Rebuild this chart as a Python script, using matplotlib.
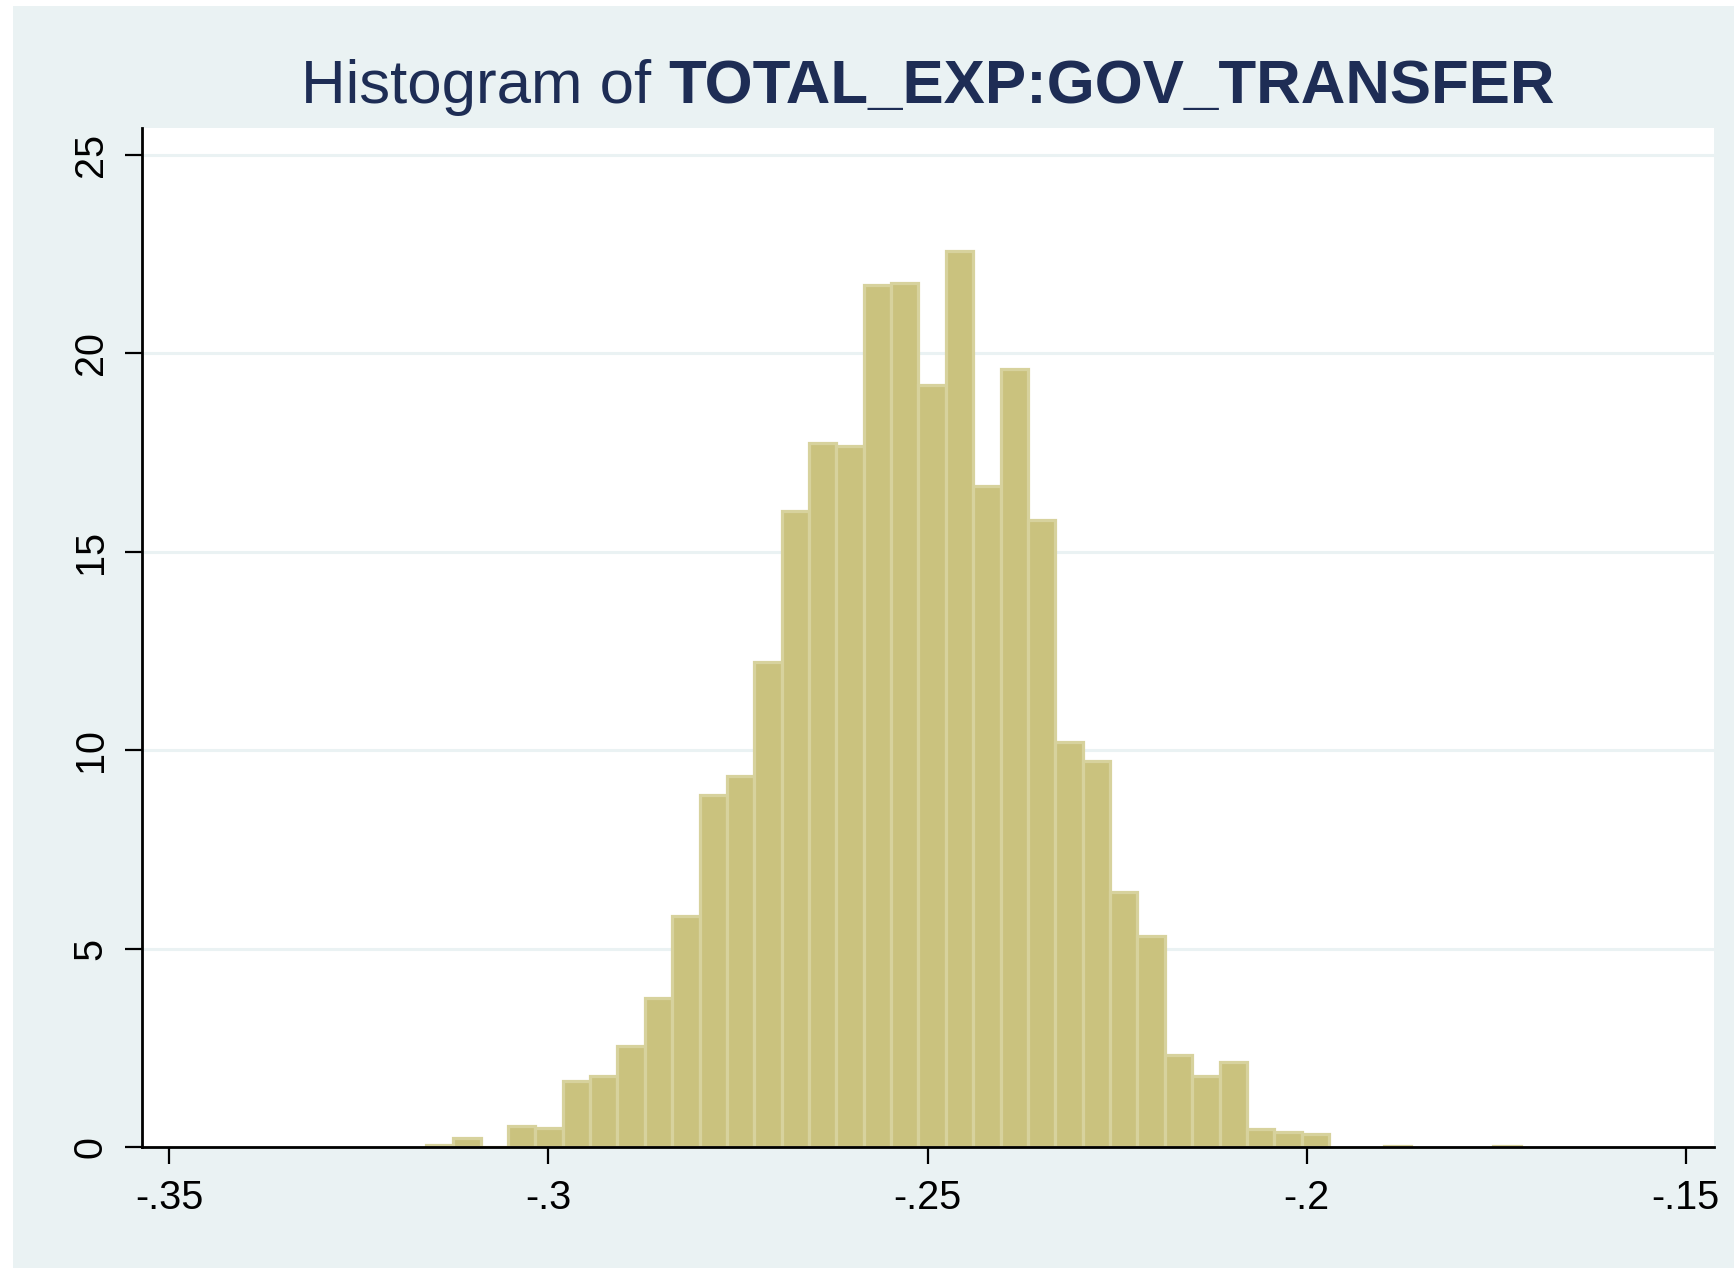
import matplotlib
matplotlib.use("Agg")
import matplotlib.pyplot as plt
import numpy as np
from matplotlib.patches import Rectangle

# histogram data (density), 40 equal-width bins
bin_start = -0.31617
bin_width = 0.00361
density = [
    0.04, 0.23, 0.01, 0.53, 0.47, 1.66, 1.80, 2.55, 3.75, 5.82,
    8.87, 9.34, 12.23, 16.02, 17.74, 17.68, 21.72, 21.78, 19.20, 22.58,
    16.66, 19.60, 15.80, 10.21, 9.73, 6.43, 5.32, 2.33, 1.80, 2.13,
    0.45, 0.38, 0.33, 0.0, 0.0, 0.03, 0.0, 0.0, 0.0, 0.03,
]
x_ticks = [-0.35, -0.30, -0.25, -0.20, -0.15]
x_labels = ["-.35", "-.3", "-.25", "-.2", "-.15"]
y_ticks = [0, 5, 10, 15, 20, 25]
y_labels = ["0", "5", "10", "15", "20", "25"]
title_plain = "Histogram of "
title_bold = "TOTAL_EXP:GOV_TRANSFER"

BG = "#EAF2F3"
FILL = "#CAC27E"
EDGE = "#D7D29D"
NAVY = "#1E2D55"

plt.rcParams["font.family"] = ["Liberation Sans", "DejaVu Sans"]

W, H = 1734, 1268
fig = plt.figure(figsize=(W / 100, H / 100), dpi=100, facecolor="white")
fig.patches.append(Rectangle((13 / W, 0), 1 - 13 / W, 1 - 6 / H,
                             transform=fig.transFigure, facecolor=BG,
                             edgecolor="none", zorder=-10))

left, right = 141.7 / W, 1713.7 / W
bottom, top = 1 - 1147 / H, 1 - 127.7 / H
ax = fig.add_axes([left, bottom, right - left, top - bottom])
ax.set_facecolor("white")

dens = np.array(density)
edges = bin_start + bin_width * np.arange(len(dens))
mask = dens > 0
ax.bar(edges[mask], dens[mask], width=bin_width, align="edge",
       color=FILL, edgecolor=EDGE, linewidth=2.3, zorder=3)

ax.set_xlim(-0.35364, -0.14631)
ax.set_ylim(0, 25.69)

ax.yaxis.grid(True, color=BG, linewidth=2.2, zorder=0)
ax.set_axisbelow(True)
ax.set_yticks(y_ticks)
ax.set_yticklabels(y_labels, rotation=90, va="center")
ax.set_xticks(x_ticks)
ax.set_xticklabels(x_labels)

ax.tick_params(axis="both", direction="out", length=12, width=1.6,
               color="black", labelsize=28.5, labelcolor="black")
ax.tick_params(axis="x", pad=11)
ax.tick_params(axis="y", pad=11)

for side in ("top", "right"):
    ax.spines[side].set_visible(False)
for side in ("left", "bottom"):
    ax.spines[side].set_linewidth(2.0)
    ax.spines[side].set_color("black")
    ax.spines[side].set_zorder(5)

# title: regular part + bold part, centred over the plot area
cx = (left + right) / 2
ty = 1 - 88 / H
t1 = fig.text(cx, ty, title_plain, fontsize=44.5, color=NAVY, va="center", ha="left")
t2 = fig.text(cx, ty, title_bold, fontsize=44.5, color=NAVY, va="center",
              ha="left", fontweight="bold")
fig.canvas.draw()
r = fig.canvas.get_renderer()
w1 = t1.get_window_extent(r).width / W
w2 = t2.get_window_extent(r).width / W
x0 = cx - (w1 + w2) / 2
t1.set_x(x0)
t2.set_x(x0 + w1)

fig.savefig("out.png", dpi=100, facecolor=fig.get_facecolor())
